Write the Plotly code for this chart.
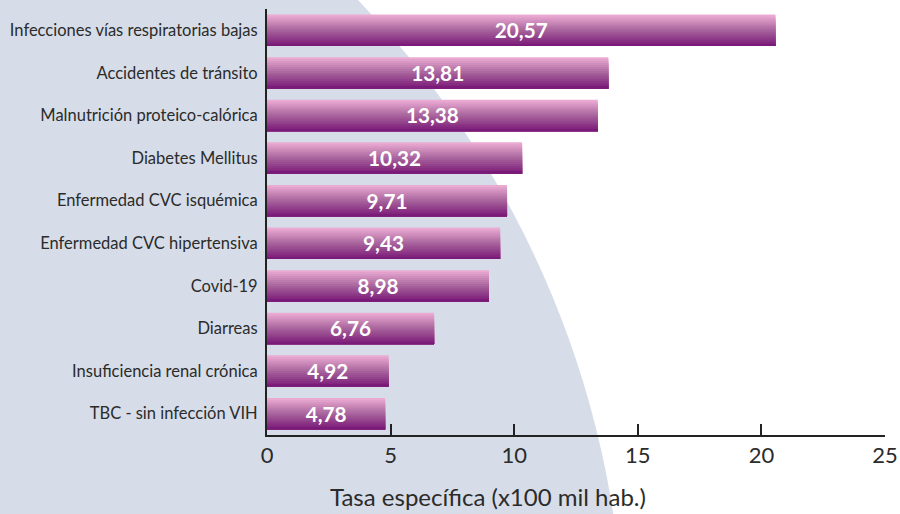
import plotly.graph_objects as go

categories = [
    "Infecciones vías respiratorias bajas",
    "Accidentes de tránsito",
    "Malnutrición proteico-calórica",
    "Diabetes Mellitus",
    "Enfermedad CVC isquémica",
    "Enfermedad CVC hipertensiva",
    "Covid-19",
    "Diarreas",
    "Insuficiencia renal crónica",
    "TBC - sin infección VIH",
]
values = [20.57, 13.81, 13.38, 10.32, 9.71, 9.43, 8.98, 6.76, 4.92, 4.78]
value_labels = ["20,57", "13,81", "13,38", "10,32", "9,71", "9,43", "8,98", "6,76", "4,92", "4,78"]
x_ticks = [0, 5, 10, 15, 20, 25]
x_title = "Tasa específica (x100 mil hab.)"

FONT = "Lato"
TOP = (234, 170, 210)
MID = (168, 100, 156)
BOT = (123, 27, 121)


def lerp(a, b, t):
    return tuple(round(a[k] + (b[k] - a[k]) * t) for k in range(3))


def grad(t):
    if t < 0.5:
        c = lerp(TOP, MID, t / 0.5)
    else:
        c = lerp(MID, BOT, (t - 0.5) / 0.5)
    return "rgb(%d,%d,%d)" % c


fig = go.Figure()

W = 0.74
N = 16
step = W / N
for i in range(N):
    off = -W / 2 + i * step
    fig.add_trace(go.Bar(
        x=values, y=categories, orientation="h",
        offset=off, width=W / 2 - off,
        marker=dict(color=grad(i / (N - 1)), line=dict(width=0)),
        hoverinfo="skip", showlegend=False,
    ))

fig.add_trace(go.Bar(
    x=values, y=categories, orientation="h",
    offset=-W / 2, width=W,
    marker=dict(color="rgba(0,0,0,0)", line=dict(width=0)),
    text=value_labels, textposition="inside", insidetextanchor="middle",
    textangle=0,
    textfont=dict(family=FONT, size=26, color="white", weight=700),
    showlegend=False,
))

# decorative background disc (pixel-estimated, converted to paper coords)
fig.add_shape(
    type="circle", xref="paper", yref="paper",
    x0=-2.487, x1=0.578, y0=-2.742, y1=1.698,
    fillcolor="#d6dde8", line=dict(width=0), layer="below",
)

fig.add_annotation(
    text=x_title, xref="paper", yref="paper", x=0.358, y=-0.145,
    xanchor="center", yanchor="middle", showarrow=False,
    font=dict(family=FONT, size=24, color="#2b2b2b"),
)

fig.update_layout(
    width=900, height=514, autosize=False,
    margin=dict(l=267, r=15, t=9, b=79, autoexpand=False),
    barmode="overlay",
    paper_bgcolor="white",
    plot_bgcolor="rgba(0,0,0,0)",
    font=dict(family=FONT, color="#2b2b2b"),
)
fig.update_xaxes(
    range=[0, 25], tickvals=x_ticks, ticktext=[str(v) for v in x_ticks],
    showgrid=False, zeroline=False, automargin=False,
    showline=True, linecolor="#222222", linewidth=2,
    ticks="inside", ticklen=11, tickwidth=2, tickcolor="#222222",
    tickfont=dict(family=FONT, size=22, color="#2b2b2b"),
    layer="below traces",
)
fig.update_yaxes(
    autorange="reversed",
    showgrid=False, zeroline=False, automargin=False,
    showline=True, linecolor="#222222", linewidth=2,
    ticks="", ticklabelstandoff=4,
    tickfont=dict(family=FONT, size=16.5, color="#2b2b2b"),
    layer="below traces",
)

fig.write_html("out.html", config={"displayModeBar": False},
               post_script="document.body.style.margin='0';")
